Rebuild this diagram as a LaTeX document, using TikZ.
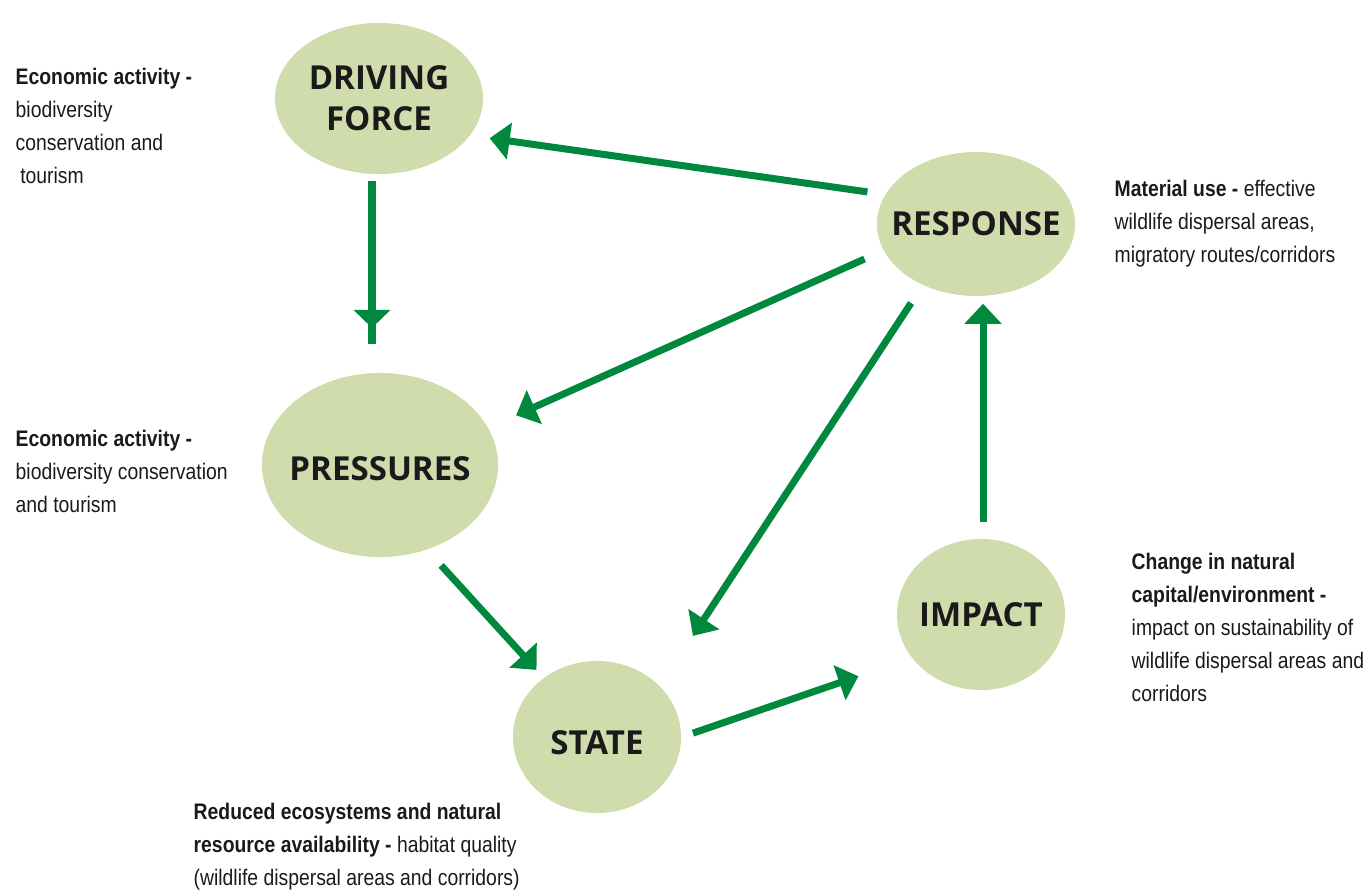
\documentclass[tikz,border=0pt]{standalone}
\usepackage{fontspec}
\usepackage{tikz}
\usetikzlibrary{shapes.geometric,arrows.meta,decorations.markings}
\newfontfamily\descfont{Liberation Sans}[FakeStretch=0.86]
\newfontfamily\stagefont{Open Sans}
\definecolor{ellfill}{RGB}{209,220,173}
\definecolor{flowgreen}{RGB}{0,137,62}
\definecolor{inkblack}{RGB}{26,26,26}

\begin{document}
\begin{tikzpicture}[x=0.01cm,y=-0.01cm,
  stage/.style={ellipse,fill=ellfill,inner sep=0pt},
  stagetext/.style={font=\stagefont\bfseries\fontsize{9.4}{11.7}\selectfont,text=inkblack,align=center,inner sep=0pt},
  desc/.style={anchor=north west,align=left,inner sep=0pt,text=inkblack,font=\descfont\fontsize{6.4}{9.4}\selectfont},
  flowline/.style={draw=flowgreen,line width=0.07cm},
  flow/.style={flowline,-{Triangle[length=0.2cm,width=0.36cm]}}]
\useasboundingbox (0,0) rectangle (1364,894);
% ---------- stages of the cycle
\node[stage,minimum width=2.08cm,minimum height=1.51cm,label={[stagetext]center:DRIVING\\FORCE}] (df) at (379,98.5){};
\node[stage,minimum width=1.98cm,minimum height=1.44cm,label={[stagetext]center:RESPONSE}] (resp) at (976,224){};
\node[stage,minimum width=2.36cm,minimum height=1.84cm,label={[stagetext,yshift=-0.035cm]center:PRESSURES}] (press) at (380,465){};
\node[stage,minimum width=1.68cm,minimum height=1.52cm,label={[stagetext,yshift=-0.06cm]center:STATE}] (state) at (597,737){};
\node[stage,minimum width=1.68cm,minimum height=1.51cm,label={[stagetext]center:IMPACT}] (imp) at (981,614.5){};
% ---------- descriptions
\node[desc] (dfdesc) at (15,67){\textbf{Economic activity -}\\biodiversity\\conservation and\\\hspace{1.3pt}tourism};
\node[desc] (pressdesc) at (15,429){\textbf{Economic activity -}\\biodiversity conservation\\and tourism};
\node[desc] (respdesc) at (1114,179){\textbf{Material use -} effective\\wildlife dispersal areas,\\migratory routes/corridors};
\node[desc] (impdesc) at (1131,552){\textbf{Change in natural}\\\textbf{capital/environment -}\\impact on sustainability of\\wildlife dispersal areas and\\corridors};
\node[desc] (statedesc) at (193,802){\textbf{Reduced ecosystems and natural}\\\textbf{resource availability -} habitat quality\\(wildlife dispersal areas and corridors)};
% ---------- arrows
\draw[flowline,postaction={decorate},decoration={markings,mark=at position 0.9 with {\arrow{Triangle[length=0.18cm,width=0.36cm]}}}]
  ([xshift=-0.07cm,yshift=-0.06cm]df.south) -- ([xshift=-0.08cm,yshift=0.28cm]press.north);
\draw[flow,shorten <=0.176cm,shorten >=0.192cm] (resp.162.2) -- (df.-22.8);
\draw[flow,shorten <=0.204cm,shorten >=0.30cm] (resp.196.9) -- (press.19.4);
\draw[flow,shorten <=0.21cm,shorten >=0.597cm] (resp.229.4) -- (state.39.8);
\draw[flow,shorten <=0.207cm,shorten >=0.103cm] (press.-61.5) -- (state.132.3);
\draw[flow,shorten <=0.118cm,shorten >=0.56cm] (state.0) -- (imp.212.3);
\draw[flow,shorten <=0.16cm,shorten >=0.07cm] ([xshift=0.02cm]imp.north) -- ([xshift=0.02cm]imp.north |- resp.south);
\end{tikzpicture}
\end{document}
